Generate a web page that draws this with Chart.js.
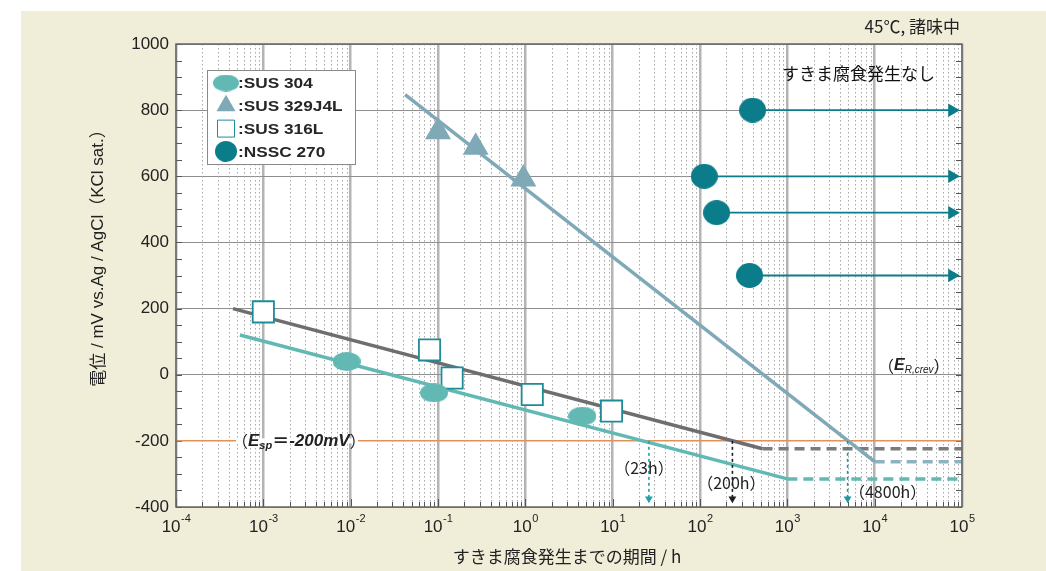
<!DOCTYPE html>
<html>
<head>
<meta charset="utf-8">
<script src="https://cdn.jsdelivr.net/npm/chart.js@4.4.0/dist/chart.umd.min.js"></script>
<style>
  html, body { margin: 0; padding: 0; background: #fff; }
</style>
</head>
<body>
<canvas id="chart" width="1046" height="571"></canvas>
<script>
const LATIN = '"Liberation Sans", Arial, "Noto Sans CJK JP", sans-serif';
const JP = '"Noto Sans CJK JP", "Liberation Sans", sans-serif';

// x axis: decades of hours, y axis: potential (mV)
const decades = [-4, -3, -2, -1, 0, 1, 2, 3, 4, 5];
const yTicks = [-400, -200, 0, 200, 400, 600, 800, 1000];

// SUS 304
const s304X = [0.009, 0.09, 4.5];
const s304Y = [40, -55, -125];
const s304FitX = [5.4e-4, 1000];
const s304FitY = [120, -315];
const s304TailX = [1000, 1e5];
const s304TailY = [-315, -315];

// SUS 329J4L
const s329X = [0.1, 0.27, 0.95];
const s329Y = [735, 688, 592];
const s329FitX = [0.042, 1.0e4];
const s329FitY = [847, -263];
const s329TailX = [1.0e4, 1e5];
const s329TailY = [-263, -263];

// SUS 316L
const s316X = [0.001, 0.08, 0.145, 1.2, 9.7];
const s316Y = [190, 75, -10, -60, -110];
const s316FitX = [4.5e-4, 520];
const s316FitY = [200, -224];
const s316TailX = [520, 1e5];
const s316TailY = [-224, -224];

// NSSC 270 (no crevice corrosion -> arrows)
const nsscX = [400, 112, 155, 370];
const nsscY = [800, 600, 490, 300];
const arrowEndX = 77000;

// E_sp and crossing times
const espY = -200;
const crossX = [26, 235, 4900];
const crossLabels = ['（23h）', '（200h）', '（4800h）'];
const crossColors = ['#22a2a8', '#1e1e1e', '#1d97a4'];
const crossEndY = -375;

const C304 = '#62b9b4';
const C329 = '#80a9b8';
const C316 = '#6e6e70';
const C316M = '#1e8c98';
const CNSSC = '#0b7c8a';
const CESP = '#e39157';

function zip(xs, ys) { return xs.map((x, i) => ({ x: x, y: ys[i] })); }

function ellipse(w, h, color) {
  const c = document.createElement('canvas');
  c.width = w; c.height = h;
  const g = c.getContext('2d');
  g.fillStyle = color;
  g.beginPath();
  g.ellipse(w / 2, h / 2, w / 2, h / 2, 0, 0, Math.PI * 2);
  g.fill();
  return c;
}

const ell304 = ellipse(28, 19, C304);
const ellNssc = ellipse(27, 25, CNSSC);
const ell304L = ellipse(26, 17, C304);
const ellNsscL = ellipse(22, 21, CNSSC);

function lineSet(xs, ys, color, width, dash, order) {
  return {
    data: zip(xs, ys), showLine: true, borderColor: color, borderWidth: width,
    borderDash: dash || [], pointRadius: 0, order: order
  };
}

const datasets = [
  { data: zip(s304X, s304Y), pointStyle: ell304, pointRadius: 14, order: 1 },
  { data: zip(s329X, s329Y), pointStyle: 'triangle', pointRadius: 15, backgroundColor: C329, borderWidth: 0, order: 1 },
  { data: zip(s316X, s316Y), pointStyle: 'rect', pointRadius: 15, backgroundColor: '#ffffff', borderColor: C316M, borderWidth: 1.8, order: 1 },
  { data: zip(nsscX, nsscY), pointStyle: ellNssc, pointRadius: 13, order: 1 },
  lineSet(s304FitX, s304FitY, C304, 3.5, null, 3),
  lineSet(s316FitX, s316FitY, C316, 3.5, null, 3),
  lineSet(s329FitX, s329FitY, C329, 3.5, null, 3),
  lineSet(s304TailX, s304TailY, C304, 3.5, [10, 6], 3),
  lineSet(s316TailX, s316TailY, '#7b7b7d', 3.5, [10, 6], 3),
  lineSet(s329TailX, s329TailY, '#8db2c0', 3.5, [10, 6], 3),
  lineSet([1e-4, 1e5], [espY, espY], CESP, 1.5, null, 5)
];

nsscX.forEach((x, i) => {
  datasets.push({
    data: [{ x: x, y: nsscY[i] }, { x: arrowEndX, y: nsscY[i] }], showLine: true,
    borderColor: CNSSC, backgroundColor: CNSSC, borderWidth: 1.8,
    pointStyle: 'triangle', pointRotation: 90, pointRadius: [0, 6], borderDash: [], order: 2
  });
});

crossX.forEach((x, i) => {
  datasets.push({
    data: [{ x: x, y: espY }, { x: x, y: crossEndY }], showLine: true,
    borderColor: crossColors[i], backgroundColor: crossColors[i], borderWidth: 1.6,
    borderDash: [3, 3], pointStyle: 'triangle', pointRotation: 180, pointRadius: [0, 4.5],
    pointBorderWidth: 0, order: 2
  });
});

function txt(ctx, s, x, y, font, color, align, base) {
  ctx.font = font;
  ctx.fillStyle = color || '#222';
  ctx.textAlign = align || 'left';
  ctx.textBaseline = base || 'middle';
  ctx.fillText(s, x, y);
  return ctx.measureText(s).width;
}

const decor = {
  id: 'decor',
  beforeDraw(chart) {
    const ctx = chart.ctx, a = chart.chartArea;
    ctx.save();
    ctx.fillStyle = '#ffffff';
    ctx.fillRect(0, 0, chart.width, chart.height);
    ctx.fillStyle = '#f0edd9';
    ctx.fillRect(21, 11, chart.width - 21, chart.height - 11);
    ctx.fillStyle = '#ffffff';
    ctx.fillRect(a.left, a.top, a.right - a.left, a.bottom - a.top);
    ctx.restore();
  },
  beforeDatasetsDraw(chart) {
    const ctx = chart.ctx, a = chart.chartArea;
    const xs = chart.scales.x, ys = chart.scales.y;
    ctx.save();
    // minor dotted grid
    ctx.strokeStyle = '#a8a8a8';
    ctx.lineWidth = 1;
    ctx.setLineDash([1.5, 2.5]);
    decades.slice(0, -1).forEach(e => {
      for (let k = 2; k <= 9; k++) {
        const px = Math.round(xs.getPixelForValue(k * Math.pow(10, e))) + 0.5;
        ctx.beginPath(); ctx.moveTo(px, a.top); ctx.lineTo(px, a.bottom); ctx.stroke();
      }
    });
    ctx.setLineDash([]);
    // minor tick marks
    ctx.strokeStyle = '#555';
    for (let v = -400; v <= 1000; v += 50) {
      const py = Math.round(ys.getPixelForValue(v)) + 0.5;
      ctx.beginPath(); ctx.moveTo(a.left, py); ctx.lineTo(a.left + 6, py); ctx.stroke();
      ctx.beginPath(); ctx.moveTo(a.right - 6, py); ctx.lineTo(a.right, py); ctx.stroke();
    }
    decades.slice(0, -1).forEach(e => {
      for (let k = 1; k <= 9; k++) {
        const px = Math.round(xs.getPixelForValue(k * Math.pow(10, e))) + 0.5;
        const len = k === 1 ? 8 : 5;
        ctx.beginPath(); ctx.moveTo(px, a.bottom); ctx.lineTo(px, a.bottom - len); ctx.stroke();
      }
    });
    ctx.restore();
  },
  afterDatasetsDraw(chart) {
    const ctx = chart.ctx, a = chart.chartArea;
    const xs = chart.scales.x, ys = chart.scales.y;
    ctx.save();
    // frame
    ctx.strokeStyle = '#666';
    ctx.lineWidth = 1.5;
    ctx.strokeRect(a.left, a.top, a.right - a.left, a.bottom - a.top);

    // x tick labels with superscripts
    decades.forEach(e => {
      const px = xs.getPixelForValue(Math.pow(10, e));
      ctx.font = '17px ' + LATIN;
      const w1 = ctx.measureText('10').width;
      ctx.font = '11px ' + LATIN;
      const w2 = ctx.measureText(String(e)).width;
      const x0 = px - (w1 + w2) / 2;
      txt(ctx, '10', x0, 532, '17px ' + LATIN, '#222', 'left', 'alphabetic');
      txt(ctx, String(e), x0 + w1 + 0.5, 522, '11px ' + LATIN, '#222', 'left', 'alphabetic');
    });

    // axis titles
    txt(ctx, 'すきま腐食発生までの期間 / h', (a.left + a.right) / 2 - 2, 557, '17px ' + JP, '#222', 'center');
    ctx.save();
    ctx.translate(98, 254);
    ctx.rotate(-Math.PI / 2);
    ctx.font = '17px ' + LATIN;
    const p1 = '電位', p2 = ' / mV vs.Ag / AgCl', p3 = '（', p4 = 'KCl sat.', p5 = '）';
    ctx.font = '17px ' + JP;
    const w1 = ctx.measureText(p1).width, w3 = ctx.measureText(p3).width, w5 = ctx.measureText(p5).width;
    ctx.font = '17px ' + LATIN;
    const w2 = ctx.measureText(p2).width, w4 = ctx.measureText(p4).width;
    let tx = -(w1 + w2 + w3 + w4 + w5) / 2;
    tx += txt(ctx, p1, tx, 0, '17px ' + JP, '#222');
    tx += txt(ctx, p2, tx, 0, '17px ' + LATIN, '#222');
    tx += txt(ctx, p3, tx, 0, '17px ' + JP, '#222');
    tx += txt(ctx, p4, tx, 0, '17px ' + LATIN, '#222');
    txt(ctx, p5, tx, 0, '17px ' + JP, '#222');
    ctx.restore();

    // corner notes
    txt(ctx, '45℃, 諸味中', a.right - 2, 27, '17px ' + JP, '#222', 'right');
    txt(ctx, 'すきま腐食発生なし', 782, 74, '17px ' + JP, '#111', 'left');

    // E_sp label over the orange line
    const ey = ys.getPixelForValue(espY);
    ctx.fillStyle = '#ffffff';
    ctx.fillRect(236, ey - 2.5, 122, 5);
    let x = 232;
    x += txt(ctx, '（', x, ey, '16px ' + JP, '#222');
    x += txt(ctx, 'E', x, ey, 'italic bold 17px ' + LATIN, '#222');
    x += txt(ctx, 'sp', x, ey + 5, 'italic bold 11px ' + LATIN, '#222');
    x += txt(ctx, '＝', x, ey, 'bold 17px ' + JP, '#222');
    x += txt(ctx, '-200mV', x, ey, 'italic bold 17px ' + LATIN, '#222');
    txt(ctx, '）', x, ey, '16px ' + JP, '#222');

    // E_R,crev label
    const ry = ys.getPixelForValue(27);
    x = 878;
    x += txt(ctx, '（', x, ry, '16px ' + JP, '#222');
    x += txt(ctx, 'E', x, ry, 'italic bold 16px ' + LATIN, '#222');
    x += txt(ctx, 'R,crev', x, ry + 4, 'italic 10px ' + LATIN, '#222');
    txt(ctx, '）', x, ry, '16px ' + JP, '#222');

    // crossing time labels
    const dx = [-5, -1, 40];
    const ly = [468, 483, 492];
    crossX.forEach((cx, i) => {
      txt(ctx, crossLabels[i], xs.getPixelForValue(cx) + dx[i], ly[i], '16px ' + JP, '#222', 'center');
    });

    // legend
    const lx = 207, lt = 70;
    ctx.fillStyle = '#ffffff';
    ctx.fillRect(lx, lt, 148, 94);
    ctx.strokeStyle = '#8a8a8a';
    ctx.lineWidth = 1;
    ctx.strokeRect(lx + 0.5, lt + 0.5, 148, 94);
    const items = [
      { label: ':SUS 304', style: ell304L, r: 13, fill: C304, stroke: C304, bw: 0 },
      { label: ':SUS 329J4L', style: 'triangle', r: 11, fill: C329, stroke: C329, bw: 0 },
      { label: ':SUS 316L', style: 'rect', r: 12, fill: '#ffffff', stroke: C316M, bw: 1.6 },
      { label: ':NSSC 270', style: ellNsscL, r: 11, fill: CNSSC, stroke: CNSSC, bw: 0 }
    ];
    items.forEach((it, i) => {
      const iy = lt + 13 + i * 22.8;
      ctx.fillStyle = it.fill;
      ctx.strokeStyle = it.stroke;
      Chart.helpers.drawPoint(ctx, { pointStyle: it.style, radius: it.r, rotation: 0, borderWidth: it.bw }, 226, iy);
      ctx.save();
      ctx.translate(238, iy + 1);
      ctx.scale(1.15, 1);
      txt(ctx, it.label, 0, 0, 'bold 15px ' + LATIN, '#262626', 'left');
      ctx.restore();
    });
    ctx.restore();
  }
};

new Chart(document.getElementById('chart'), {
  type: 'scatter',
  data: { datasets: datasets },
  options: {
    responsive: false,
    animation: false,
    layout: { padding: { left: 0, right: 84, top: 44, bottom: 0 } },
    plugins: { legend: { display: false }, tooltip: { enabled: false } },
    scales: {
      x: {
        type: 'logarithmic',
        min: 1e-4,
        max: 1e5,
        afterBuildTicks(s) {
          const t = [];
          decades.forEach(e => {
            const top = e === 5 ? 1 : 9;
            for (let k = 1; k <= top; k++) t.push({ value: k * Math.pow(10, e), major: k === 1 });
          });
          s.ticks = t;
        },
        afterFit(s) { s.height = 64; },
        ticks: { display: false },
        grid: {
          color: c => (c.tick && c.tick.major ? '#b4b4b4' : 'rgba(0,0,0,0)'),
          lineWidth: 2.5,
          drawTicks: false
        },
        border: { display: false }
      },
      y: {
        min: -400,
        max: 1000,
        afterBuildTicks(s) { s.ticks = yTicks.map(v => ({ value: v })); },
        afterFit(s) { s.width = 176; },
        ticks: { font: { size: 17, family: LATIN }, color: '#222', padding: 7, callback: v => String(v) },
        grid: { color: '#8e8e8e', lineWidth: 1, drawTicks: false },
        border: { display: false }
      }
    }
  },
  plugins: [decor]
});
</script>
</body>
</html>
